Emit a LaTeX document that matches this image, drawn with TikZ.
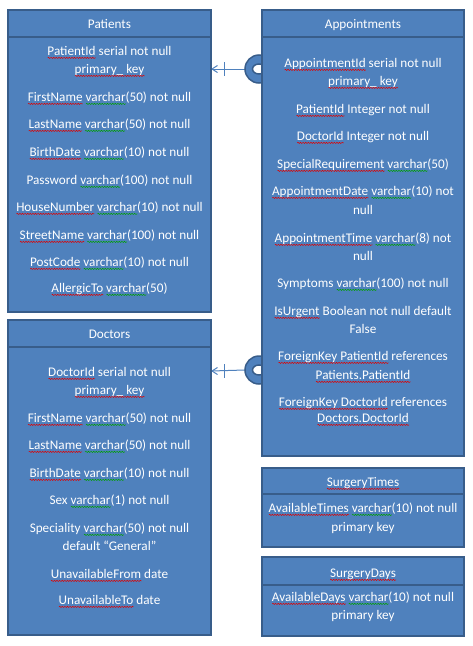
\documentclass[tikz,border=0pt]{standalone}
\usepackage{fontspec}
\setmainfont{Carlito}
\usetikzlibrary{decorations.pathmorphing,backgrounds}
\definecolor{boxfill}{HTML}{4F81BD}
\definecolor{boxline}{HTML}{385D8A}
\definecolor{connblue}{HTML}{4F81BD}
\definecolor{sqred}{HTML}{E00000}
\definecolor{sqgreen}{HTML}{00A000}
\newlength\sqw
\newcommand\sq[2]{\settowidth\sqw{#2}\rlap{\tikz[baseline=0pt]\draw[#1,line width=0.5pt,decorate,decoration={snake,amplitude=0.6pt,segment length=2.6pt}] (0pt,-2.4pt) -- (\sqw,-2.4pt);}#2}
\newcommand\R[1]{\sq{sqred}{#1}}
\newcommand\G[1]{\sq{sqgreen}{#1}}
\tikzset{
  tbl/.style={draw=boxline, fill=boxfill, line width=2pt, inner sep=0pt, outer sep=0pt, anchor=north west},
  hdrline/.style={draw=boxline, line width=2pt},
  fld/.style={text=white, font=\fontsize{13.2}{15}\selectfont, anchor=base, inner sep=0pt},
  conn/.style={draw=connblue, line width=1pt},
  cshape/.style={draw=boxline, fill=boxfill, line width=1.5pt, even odd rule},
}
\begin{document}
\begin{tikzpicture}[x=1pt,y=-1pt]
\useasboundingbox (0,0) rectangle (473,646);
% tables
\node[tbl, minimum width=203, minimum height=302] (Pat) at (8,10) {};
\node[tbl, minimum width=203, minimum height=315] (Doc) at (8,320) {};
\node[tbl, minimum width=202, minimum height=446] (App) at (262,10) {};
\node[tbl, minimum width=202, minimum height=79] (ST) at (262,468) {};
\node[tbl, minimum width=202, minimum height=79] (SD) at (262,557) {};
\draw[hdrline] ([yshift=-27pt]Pat.north west) -- ([yshift=-27pt]Pat.north east);
\draw[hdrline] ([yshift=-27pt]Doc.north west) -- ([yshift=-27pt]Doc.north east);
\draw[hdrline] ([yshift=-27pt]App.north west) -- ([yshift=-27pt]App.north east);
\draw[hdrline] ([yshift=-26pt]ST.north west) -- ([yshift=-26pt]ST.north east);
\draw[hdrline] ([yshift=-28pt]SD.north west) -- ([yshift=-28pt]SD.north east);
% Patients
\node[fld] (ph) at (109.5,28.5) {Patients};
\node[fld] (p1a) at (109.5,55.5) {\R{PatientId} serial not null};
\node[fld] (p1b) at (109.5,73.5) {\R{primary\_ key}};
\node[fld] (p2) at (109.5,101.5) {\R{FirstName} \G{varchar}(50) not null};
\node[fld] (p3) at (109.5,128.5) {\R{LastName} \G{varchar}(50) not null};
\node[fld] (p4) at (109.5,156.5) {\R{BirthDate} \G{varchar}(10) not null};
\node[fld] (p5) at (109.5,184.5) {Password \G{varchar}(100) not null};
\node[fld] (p6) at (109.5,211.5) {\R{HouseNumber} \G{varchar}(10) not null};
\node[fld] (p7) at (109.5,239.5) {\R{StreetName} \G{varchar}(100) not null};
\node[fld] (p8) at (109.5,266.5) {\R{PostCode} \G{varchar}(10) not null};
\node[fld] (p9) at (109.5,292.5) {\R{AllergicTo} \G{varchar}(50)};
% Doctors
\node[fld] (dh) at (109.5,338.5) {Doctors};
\node[fld] (d1a) at (109.5,376.5) {\R{DoctorId} serial not null};
\node[fld] (d1b) at (109.5,394.5) {\R{primary\_ key}};
\node[fld] (d2) at (109.5,422.5) {\R{FirstName} \G{varchar}(50) not null};
\node[fld] (d3) at (109.5,449.5) {\R{LastName} \G{varchar}(50) not null};
\node[fld] (d4) at (109.5,477.5) {\R{BirthDate} \G{varchar}(10) not null};
\node[fld] (d5) at (109.5,504.5) {Sex \G{varchar}(1) not null};
\node[fld] (d6a) at (109.5,532.5) {Speciality \G{varchar}(50) not null};
\node[fld] (d6b) at (109.5,550.5) {default “General”};
\node[fld] (d7) at (109.5,578.5) {\R{UnavailableFrom} date};
\node[fld] (d8) at (109.5,604.5) {\R{UnavailableTo} date};
% Appointments
\node[fld] (ah) at (363,28.5) {Appointments};
\node[fld] (a1a) at (363,67.5) {\R{AppointmentId} serial not null};
\node[fld] (a1b) at (363,85.5) {\R{primary\_ key}};
\node[fld] (a2) at (363,113.5) {\R{PatientId} Integer not null};
\node[fld] (a3) at (363,140.5) {\R{DoctorId} Integer not null};
\node[fld] (a4) at (363,168.5) {\R{SpecialRequirement} \G{varchar}(50)};
\node[fld] (a5a) at (363,195.5) {\R{AppointmentDate} \G{varchar}(10) not};
\node[fld] (a5b) at (363,214.5) {null};
\node[fld] (a6a) at (363,242.5) {\R{AppointmentTime} \G{varchar}(8) not};
\node[fld] (a6b) at (363,260.5) {null};
\node[fld] (a7) at (363,287.5) {Symptoms \G{varchar}(100) not null};
\node[fld] (a8a) at (363,315.5) {\R{IsUrgent} Boolean not null default};
\node[fld] (a8b) at (363,333.5) {False};
\node[fld] (a9a) at (363,360.5) {\R{ForeignKey PatientId} references};
\node[fld] (a9b) at (363,379.5) {\R{Patients.PatientId}};
\node[fld] (a10a) at (363,406.5) {\R{ForeignKey DoctorId} references};
\node[fld] (a10b) at (363,422.5) {\R{Doctors.DoctorId}};
% SurgeryTimes
\node[fld] (sth) at (363,486.5) {\R{SurgeryTimes}};
\node[fld] (st1a) at (363,512.5) {\R{AvailableTimes} \G{varchar}(10) not null};
\node[fld] (st1b) at (363,531.5) {primary key};
% SurgeryDays
\node[fld] (sdh) at (363,577.5) {\R{SurgeryDays}};
\node[fld] (sd1a) at (363,601.5) {\R{AvailableDays} \G{varchar}(10) not null};
\node[fld] (sd1b) at (363,619.5) {primary key};
% connectors
\coordinate (c1) at (Pat.east |- 0,69);
\coordinate (e1) at (App.west |- 0,69);
\coordinate (c2) at (Doc.east |- 0,371);
\coordinate (e2) at (App.west |- 0,370);
\begin{scope}[on background layer]
  \foreach \s/\e in {c1/e1,c2/e2}{
    \draw[conn] (\s) -- ([xshift=-17pt]\e);
    \draw[conn] ([xshift=6.5pt,yshift=3.5pt]\s) -- ([xshift=1pt]\s) -- ([xshift=6.5pt,yshift=-3.5pt]\s);
    \draw[conn] ([xshift=13pt,yshift=7pt]\s) -- ([xshift=13pt,yshift=-7pt]\s);
    \draw[cshape] ([xshift=-3pt]\e) circle[radius=14pt] ([xshift=-3pt]\e) ellipse[x radius=6.5pt,y radius=5pt];
  }
\end{scope}
\end{tikzpicture}
\end{document}
